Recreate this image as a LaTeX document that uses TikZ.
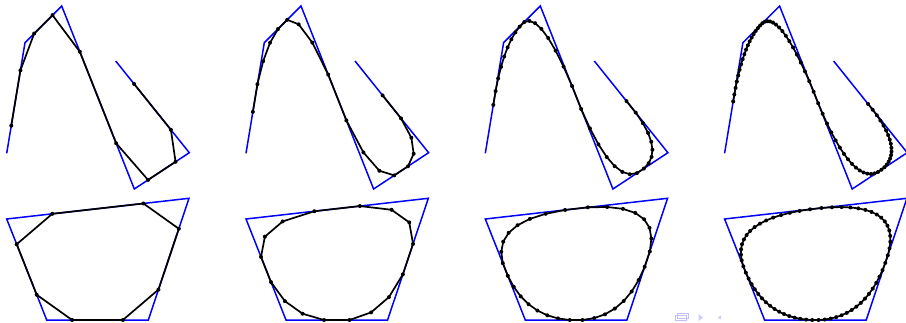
\documentclass[tikz,border=0pt]{standalone}
\tikzset{
  ctrl/.style={draw=blue, line width=1.5pt, line join=miter},
  chcurve/.style={draw=black, line width=1.7pt, line join=round},
  chdot/.style={fill=black},
  navfill/.style={fill=blue!20, draw=none},
  navline/.style={draw=blue!25, line width=0.8pt},
}
\ExplSyntaxOn
\seq_new:N \g_chx_seq
\seq_new:N \g_chy_seq
\seq_new:N \l_chnx_seq
\seq_new:N \l_chny_seq
\int_new:N \l_chn_int
\tl_new:N \l_chax_tl
\tl_new:N \l_chay_tl
\tl_new:N \l_chbx_tl
\tl_new:N \l_chby_tl
\tl_new:N \l_chpt_tl
\tl_new:N \l_chpath_tl
\tl_new:N \l_chdots_tl
\cs_new_protected:Npn \ch_step:n #1
  {
    \seq_clear:N \l_chnx_seq
    \seq_clear:N \l_chny_seq
    \int_set:Nn \l_chn_int { \seq_count:N \g_chx_seq }
    \int_step_inline:nn { \l_chn_int - 1 + #1 }
      {
        \tl_set:Nx \l_chax_tl { \seq_item:Nn \g_chx_seq {##1} }
        \tl_set:Nx \l_chay_tl { \seq_item:Nn \g_chy_seq {##1} }
        \tl_set:Nx \l_chbx_tl { \seq_item:Nn \g_chx_seq { \int_mod:nn {##1} {\l_chn_int} + 1 } }
        \tl_set:Nx \l_chby_tl { \seq_item:Nn \g_chy_seq { \int_mod:nn {##1} {\l_chn_int} + 1 } }
        \seq_put_right:Nx \l_chnx_seq { \fp_eval:n { 0.75*\l_chax_tl + 0.25*\l_chbx_tl } }
        \seq_put_right:Nx \l_chny_seq { \fp_eval:n { 0.75*\l_chay_tl + 0.25*\l_chby_tl } }
        \seq_put_right:Nx \l_chnx_seq { \fp_eval:n { 0.25*\l_chax_tl + 0.75*\l_chbx_tl } }
        \seq_put_right:Nx \l_chny_seq { \fp_eval:n { 0.25*\l_chay_tl + 0.75*\l_chby_tl } }
      }
    \seq_gset_eq:NN \g_chx_seq \l_chnx_seq
    \seq_gset_eq:NN \g_chy_seq \l_chny_seq
  }
\cs_new_protected:Npn \ch_path:nn #1 #2
  {
    \tl_clear:N \l_chpath_tl
    \tl_clear:N \l_chdots_tl
    \int_step_inline:nn { \seq_count:N \g_chx_seq }
      {
        \tl_set:Nx \l_chax_tl { \seq_item:Nn \g_chx_seq {##1} }
        \tl_set:Nx \l_chay_tl { \seq_item:Nn \g_chy_seq {##1} }
        \tl_set:Nx \l_chpt_tl
          { ( \fp_eval:n { round( \l_chax_tl + #1 , 3) } , \fp_eval:n { round( \l_chay_tl , 3) } ) }
        \int_compare:nNnF {##1} = {1} { \tl_put_right:Nn \l_chpath_tl { -- } }
        \tl_put_right:NV \l_chpath_tl \l_chpt_tl
        \tl_put_right:Nx \l_chdots_tl { \exp_not:V \l_chpt_tl circle [radius=2pt] }
      }
    \int_compare:nNnT {#2} = {1} { \tl_put_right:Nn \l_chpath_tl { -- cycle } }
  }
% #1 dx, #2 xs, #3 ys, #4 closed (0/1), #5 iterations
\NewDocumentCommand \ChPanel { m m m m m }
  {
    \seq_gset_from_clist:Nn \g_chx_seq {#2}
    \seq_gset_from_clist:Nn \g_chy_seq {#3}
    \ch_path:nn {#1} {#4}
    \use:x { \exp_not:N \draw [ctrl] \l_chpath_tl ; }
    \prg_replicate:nn {#5} { \ch_step:n {#4} }
    \ch_path:nn {#1} {#4}
    \use:x { \exp_not:N \draw [chcurve] \l_chpath_tl ; }
    \use:x { \exp_not:N \fill [chdot] \l_chdots_tl ; }
  }
\ExplSyntaxOff
\begin{document}
\begin{tikzpicture}[x=1pt, y=-1pt]
\useasboundingbox (0,0) rectangle (906,322);
\foreach \k in {1,2,3,4} {
  \pgfmathsetmacro{\dx}{239.3*(\k-1)}
  \ChPanel{\dx}{6.7,25,61.7,134.3,189.3,115.7}{153.3,42.7,6,189,152.7,61}{0}{\k}
  \ChPanel{\dx}{6.7,189,148.3,46.7}{219,198.3,320,320}{1}{\k}
}
% faint navigation symbols
\draw[navline] (677.5,313.5) rectangle (688.5,318);
\draw[navline] (675,315.5) rectangle (686,320.5);
\path[navfill] (698.5,314) -- (703,317.5) -- (698.5,321) -- cycle;
\path[navfill] (721,315.5) -- (717.5,317.5) -- (721,319.5) -- cycle;
\end{tikzpicture}
\end{document}
